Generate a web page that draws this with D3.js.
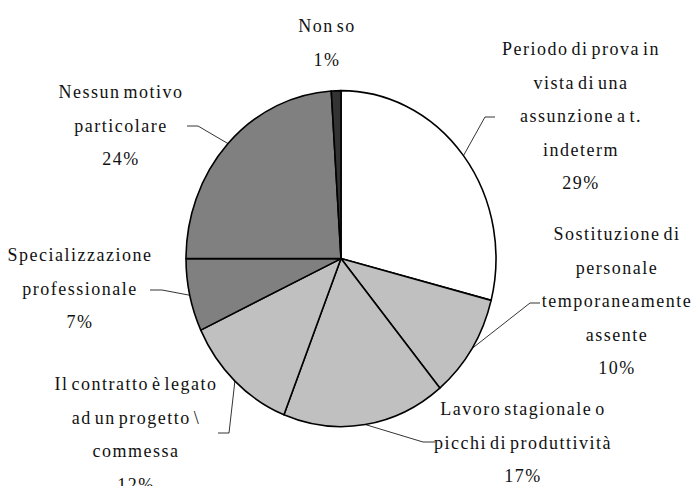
<!DOCTYPE html>
<html>
<head>
<meta charset="utf-8">
<script src="https://cdn.jsdelivr.net/npm/d3@7"></script>
<style>
  body { margin: 0; background: #fff; }
  svg { display: block; }
</style>
</head>
<body>
<svg id="chart" width="696" height="486"></svg>
<script>
"use strict";

// categories in drawing order (clockwise from 12 o'clock), "\n" = line break in the label
var categories = [
  "Periodo di prova in\nvista di una\nassunzione a t.\nindeterm",
  "Sostituzione di\npersonale\ntemporaneamente\nassente",
  "Lavoro stagionale o\npicchi di produttività",
  "Il contratto è legato\nad un progetto \\\ncommessa",
  "Specializzazione\nprofessionale",
  "Nessun motivo\nparticolare",
  "Non so"
]
var values = [29, 10, 17, 12, 7, 24, 1]
var fills = ["#ffffff", "#c0c0c0", "#c0c0c0", "#c0c0c0", "#808080", "#808080", "#333333"]

// label placement (centre x, first baseline, leader elbow and end)
var labelLayout = [
  { x: 581, y: 55,  elbow: [485, 117], end: [495, 117] },
  { x: 617, y: 240, elbow: [530, 303], end: [540, 303] },
  { x: 523, y: 415, elbow: [423, 442], end: [435, 442] },
  { x: 136, y: 390, elbow: [229, 433], end: [218, 433] },
  { x: 80,  y: 261, elbow: [162, 290], end: [150, 290] },
  { x: 121, y: 98,  elbow: [198, 126], end: [187, 126] },
  { x: 327, y: 32,  elbow: null, end: null }
]

var svg = d3.select("#chart")
var cx = 341, cy = 258.6
var rx = 155, ry = 168
var lineHeight = 33.6

var data = values.map(function(v, i) {
  return { name: categories[i], value: v, fill: fills[i], layout: labelLayout[i] }
})

var pie = d3.pie()
  .sort(null)
  .value(function(d) { return d.value })

var arc = d3.arc()
  .innerRadius(0)
  .outerRadius(rx)

var arcs = pie(data)

// slices: drawn as a circle and stretched vertically into the ellipse
svg.append("g")
  .attr("transform", "translate(" + cx + "," + cy + ") scale(1," + (ry / rx) + ")")
  .selectAll("path")
  .data(arcs)
  .enter()
  .append("path")
    .attr("d", arc)
    .attr("fill", function(d) { return d.data.fill })
    .attr("stroke", "#000")
    .attr("stroke-width", 1.6)
    .attr("stroke-linejoin", "round")
    .attr("vector-effect", "non-scaling-stroke")

// leader lines start at the middle of each slice's outer edge
function edgePoint(d) {
  var a = (d.startAngle + d.endAngle) / 2
  return [cx + rx * Math.sin(a), cy - ry * Math.cos(a)]
}

svg.append("g")
  .selectAll("polyline")
  .data(arcs.filter(function(d) { return d.data.layout.elbow }))
  .enter()
  .append("polyline")
    .attr("points", function(d) {
      return [edgePoint(d), d.data.layout.elbow, d.data.layout.end].join(" ")
    })
    .attr("fill", "none")
    .attr("stroke", "#000")
    .attr("stroke-width", 0.8)

var labels = svg.append("g")
  .selectAll("text")
  .data(arcs)
  .enter()
  .append("text")
    .attr("text-anchor", "middle")
    .style("font-family", "'Liberation Serif', 'Times New Roman', serif")
    .style("font-size", "18px")
    .style("letter-spacing", "1.5px")
    .style("word-spacing", "-3px")
    .style("fill", "#111")

labels.each(function(d) {
  var lines = d.data.name.split("\n").concat([d.data.value + "%"])
  var t = d3.select(this)
  lines.forEach(function(line, i) {
    t.append("tspan")
      .attr("x", d.data.layout.x)
      .attr("y", d.data.layout.y + i * lineHeight)
      .text(line)
  })
})
</script>
</body>
</html>
